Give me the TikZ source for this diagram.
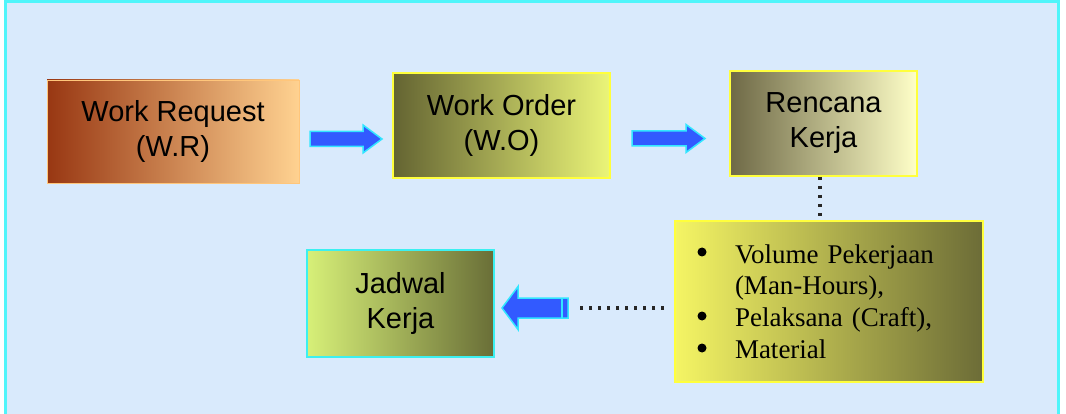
\documentclass[tikz,border=0pt]{standalone}
\usepackage{fontspec}
\setmainfont{Liberation Sans}
\newfontfamily\serifbul{Liberation Serif}
\usetikzlibrary{calc}
\definecolor{bg}{RGB}{217,234,252}
\definecolor{framecyan}{RGB}{80,245,250}
\definecolor{boxyellow}{RGB}{255,255,60}
\definecolor{boxcyan}{RGB}{60,240,240}
\definecolor{arrowblue}{RGB}{50,90,255}
\definecolor{arrowcyan}{RGB}{50,230,255}
\definecolor{wrL}{RGB}{152,55,18}
\definecolor{wrR}{RGB}{255,210,145}
\definecolor{woL}{RGB}{100,100,50}
\definecolor{woR}{RGB}{235,245,120}
\definecolor{rkL}{RGB}{110,105,70}
\definecolor{rkR}{RGB}{255,255,200}
\definecolor{blL}{RGB}{245,245,100}
\definecolor{blR}{RGB}{108,108,55}
\definecolor{jkL}{RGB}{215,240,120}
\definecolor{jkR}{RGB}{105,110,55}
\begin{document}
\begin{tikzpicture}[x=1pt,y=-1pt,
  box/.style={rectangle, inner sep=0pt, align=center, font=\fontsize{29}{35}\selectfont, text=black},
  ybox/.style={box, draw=boxyellow, line width=2pt},
  barrow/.style={fill=arrowblue, draw=arrowcyan, line width=1.5pt, line join=miter},
  dotline/.style={line width=3.5pt, dash pattern=on 3.5pt off 5.5pt, draw=black!85},
  bulletdot/.style={fill=black}]
\useasboundingbox (0,0) rectangle (1066,414);
\clip (0,0) rectangle (1066,414);
\fill[white] (0,0) rectangle (1066,414);
\draw[fill=bg, draw=framecyan, line width=3pt] (5,2) rectangle (1058,430);

% boxes
\node[box, left color=wrL, right color=wrR, draw=wrR!85!orange, line width=0.8pt,
      minimum width=252pt, minimum height=103pt] (wr) at (173,131.5) {Work Request\\(W.R)};
\node[ybox, left color=woL, right color=woR,
      minimum width=217pt, minimum height=105pt] (wo) at (501.5,125.5) {Work Order\\(W.O)};
\node[ybox, left color=rkL, right color=rkR,
      minimum width=187pt, minimum height=105pt] (rk) at (823.5,123.5) {Rencana\\Kerja};
\node[box, left color=jkL, right color=jkR, draw=boxcyan, line width=2pt,
      minimum width=187pt, minimum height=107pt] (jk) at (400.5,303.5) {Jadwal\\Kerja};
\node[ybox, left color=blL, right color=blR, minimum width=308pt, minimum height=161pt,
      text width=260pt, align=left, font=\serifbul\fontsize{27}{31.7}\selectfont] (bl) at (829,301.5)
  {\hspace*{36pt}Volume Pekerjaan\\
   \hspace*{36pt}(Man-Hours),\\
   \hspace*{36pt}Pelaksana (Craft),\\
   \hspace*{36pt}Material};
% bullets
\fill[bulletdot] ($(bl.north west)+(28,32)$) circle[radius=4.5];
\fill[bulletdot] ($(bl.north west)+(28,96)$) circle[radius=4.5];
\fill[bulletdot] ($(bl.north west)+(28,128)$) circle[radius=4.5];

% arrow end points
\coordinate (a1s) at (310,139);
\coordinate (a1e) at (382,139);
\coordinate (a2s) at (632,138.5);
\coordinate (a2e) at (705,138.5);
\coordinate (a3s) at (568,308);
\coordinate (a3e) at (502,308);
\coordinate (dx) at (820,0);

% block arrows
\draw[barrow] ($(a1s)+(0,-7.5)$) -- ($(a1e)+(-19,-7.5)$) -- ($(a1e)+(-19,-14)$) -- (a1e)
  -- ($(a1e)+(-19,14)$) -- ($(a1e)+(-19,7.5)$) -- ($(a1s)+(0,7.5)$) -- cycle;
\draw[barrow] ($(a2s)+(0,-7.5)$) -- ($(a2e)+(-19,-7.5)$) -- ($(a2e)+(-19,-14)$) -- (a2e)
  -- ($(a2e)+(-19,14)$) -- ($(a2e)+(-19,7.5)$) -- ($(a2s)+(0,7.5)$) -- cycle;
\draw[barrow] ($(a3s)+(0,-10)$) -- ($(a3e)+(16,-10)$) -- ($(a3e)+(16,-21.5)$) -- (a3e)
  -- ($(a3e)+(16,21.5)$) -- ($(a3e)+(16,10)$) -- ($(a3s)+(0,10)$) -- cycle;
\draw[arrowcyan, line width=1.5pt] ($(a3s)+(-6,-10)$) -- ($(a3s)+(-6,10)$);

% dotted connectors
\draw[dotline] (rk.south -| dx) -- (bl.north -| dx);
\draw[dotline] ($(bl.west |- a3s)+(-10,0)$) -- ($(a3s)+(11,0)$);
\end{tikzpicture}
\end{document}
